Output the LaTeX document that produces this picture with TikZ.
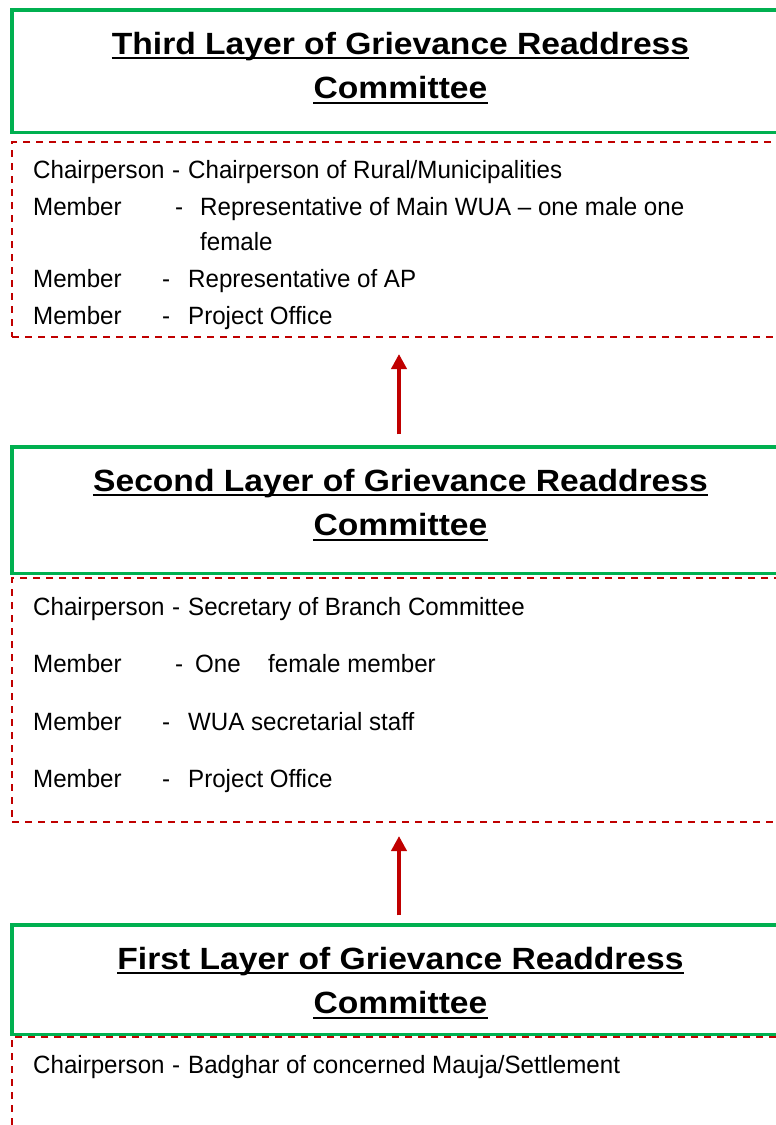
\documentclass[tikz,border=0pt]{standalone}
\usepackage{fontspec}
\usetikzlibrary{arrows.meta}
\newfontfamily\titlefont{Liberation Sans}[FakeStretch=1.095]
\newfontfamily\bodyfont{Liberation Sans}[FakeStretch=0.965]
\definecolor{boxgreen}{HTML}{00B050}
\definecolor{darkred}{HTML}{C00000}
\tikzset{
  layerbox/.style={draw=boxgreen, line width=3.5pt, rectangle, inner sep=0pt, minimum width=776pt},
  memberbox/.style={draw=darkred, line width=2pt, dash pattern=on 7pt off 6pt, rectangle, inner sep=0pt, minimum width=776pt},
  titletext/.style={anchor=base, inner sep=0pt, font=\titlefont\bfseries\fontsize{30.7}{36}\selectfont},
  bodytext/.style={anchor=base west, inner sep=0pt, font=\bodyfont\fontsize{25}{30}\selectfont},
  titleline/.style={line width=2pt, black},
  uparrow/.style={draw=darkred, line width=4pt, -{Triangle[length=15pt,width=15pt]}}
}
\begin{document}
\begin{tikzpicture}[x=1pt,y=-1pt]
\useasboundingbox (0,0) rectangle (776,1125);
\clip (0,0) rectangle (776,1125);
\fill[white] (0,0) rectangle (776,1125);

% member panels (dashed), drawn first so the layer frames sit on top
\node[memberbox, minimum height=195pt] (m3) at (400,239.5) {};
\node[memberbox, minimum height=244pt] (m2) at (400,700) {};
\node[memberbox, minimum height=200pt] (m1) at (400,1137) {};

% layer frames
\node[layerbox, minimum height=122.5pt] (g3) at (400,71.25) {};
\node[layerbox, minimum height=126.5pt] (g2) at (400,510.25) {};
\node[layerbox, minimum height=109.5pt] (g1) at (400,979.75) {};

% titles
\node[titletext] (t3a) at (400.5,54)   {Third Layer of Grievance Readdress};
\node[titletext] (t3b) at (400.5,98.3) {Committee};
\node[titletext] (t2a) at (400.5,491)  {Second Layer of Grievance Readdress};
\node[titletext] (t2b) at (400.5,535.3){Committee};
\node[titletext] (t1a) at (400.5,969)  {First Layer of Grievance Readdress};
\node[titletext] (t1b) at (400.5,1013.3){Committee};
\foreach \t in {t3a,t3b,t2a,t2b,t1a,t1b}
  \draw[titleline] ([yshift=-4.3pt]\t.base west) -- ([yshift=-4.3pt]\t.base east);

% third layer members
\node[bodytext] (c3l) at (33,178)  {Chairperson};
\node[bodytext] (c3d) at (172,178) {-};
\node[bodytext] (c3v) at (188,178) {Chairperson of Rural/Municipalities};
\node[bodytext] (a3l) at (33,215)  {Member};
\node[bodytext] (a3d) at (175,215) {-};
\node[bodytext] (a3v) at (200,215) {Representative of Main WUA – one male one};
\node[bodytext] (a3w) at (200,250) {female};
\node[bodytext] (b3l) at (33,287)  {Member};
\node[bodytext] (b3d) at (162,287) {-};
\node[bodytext] (b3v) at (188,287) {Representative of AP};
\node[bodytext] (d3l) at (33,324)  {Member};
\node[bodytext] (d3d) at (162,324) {-};
\node[bodytext] (d3v) at (188,324) {Project Office};

% second layer members
\node[bodytext] (c2l) at (33,615)  {Chairperson};
\node[bodytext] (c2d) at (172,615) {-};
\node[bodytext] (c2v) at (188,615) {Secretary of Branch Committee};
\node[bodytext] (a2l) at (33,672)  {Member};
\node[bodytext] (a2d) at (175,672) {-};
\node[bodytext] (a2v) at (195,672) {One};
\node[bodytext] (a2w) at (268,672) {female member};
\node[bodytext] (b2l) at (33,730)  {Member};
\node[bodytext] (b2d) at (162,730) {-};
\node[bodytext] (b2v) at (188,730) {WUA secretarial staff};
\node[bodytext] (d2l) at (33,787)  {Member};
\node[bodytext] (d2d) at (162,787) {-};
\node[bodytext] (d2v) at (188,787) {Project Office};

% first layer members
\node[bodytext] (c1l) at (33,1073)  {Chairperson};
\node[bodytext] (c1d) at (172,1073) {-};
\node[bodytext] (c1v) at (188,1073) {Badghar of concerned Mauja/Settlement};

% escalation arrows
\draw[uparrow, shorten <=11pt, shorten >=16pt] (g2.north -| 399,0) -- (m3.south -| 399,0);
\draw[uparrow, shorten <=8pt, shorten >=13pt] (g1.north -| 399,0) -- (m2.south -| 399,0);
\end{tikzpicture}
\end{document}
